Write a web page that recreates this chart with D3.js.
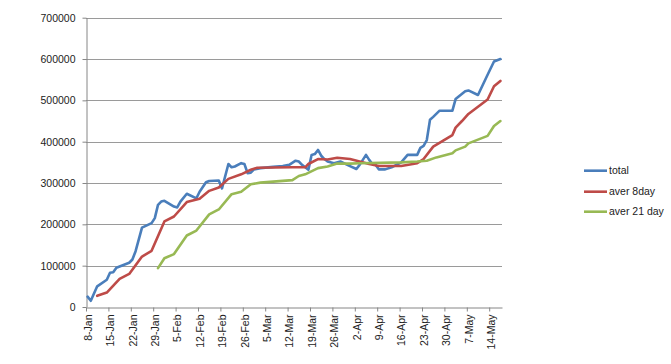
<!DOCTYPE html>
<html>
<head>
<meta charset="utf-8">
<script src="https://cdn.jsdelivr.net/npm/d3@7"></script>
<style>
  html, body { margin: 0; padding: 0; background: #fff; }
  svg { display: block; font-family: "Liberation Sans", Arial, sans-serif; }
</style>
</head>
<body>
<svg id="chart" width="671" height="364"></svg>
<script>
// ---- data ----
const xTickLabels = ["8-Jan","15-Jan","22-Jan","29-Jan","5-Feb","12-Feb","19-Feb","26-Feb","5-Mar","12-Mar","19-Mar","26-Mar","2-Apr","9-Apr","16-Apr","23-Apr","30-Apr","7-May","14-May"];
const yTickValues = [0,100000,200000,300000,400000,500000,600000,700000];
const seriesNames = ["total","aver 8day","aver 21 day"];

const totalDates = ["8-Jan","9-Jan","11-Jan","14-Jan","15-Jan","16-Jan","17-Jan","21-Jan","22-Jan","23-Jan","25-Jan","28-Jan","29-Jan","30-Jan","31-Jan","1-Feb","4-Feb","5-Feb","6-Feb","8-Feb","11-Feb","12-Feb","14-Feb","15-Feb","18-Feb","19-Feb","21-Feb","22-Feb","23-Feb","25-Feb","26-Feb","27-Feb","28-Feb","1-Mar","3-Mar","7-Mar","10-Mar","12-Mar","14-Mar","15-Mar","16-Mar","18-Mar","19-Mar","20-Mar","21-Mar","22-Mar","23-Mar","24-Mar","26-Mar","28-Mar","31-Mar","2-Apr","3-Apr","5-Apr","6-Apr","7-Apr","8-Apr","9-Apr","11-Apr","13-Apr","16-Apr","18-Apr","21-Apr","22-Apr","23-Apr","24-Apr","25-Apr","26-Apr","28-Apr","2-May","3-May","6-May","7-May","10-May","13-May","15-May","17-May"];
const totalValues = [25000,15000,50000,66000,83000,84000,95000,107000,115000,135000,192000,203000,215000,247000,255000,257000,243000,241000,255000,274000,263000,279000,302000,305000,306000,287000,346000,338000,340000,348000,346000,324000,325000,333000,336000,339000,341000,344000,354000,352000,344000,332000,368000,370000,380000,366000,358000,352000,348000,352000,341000,334000,344000,368000,356000,346000,344000,333000,333000,338000,350000,368000,368000,385000,390000,404000,453000,460000,475000,475000,503000,522000,524000,513000,562000,594000,600000];

const aver8Dates = ["11-Jan","14-Jan","18-Jan","21-Jan","25-Jan","28-Jan","1-Feb","4-Feb","8-Feb","12-Feb","15-Feb","18-Feb","21-Feb","25-Feb","28-Feb","2-Mar","13-Mar","17-Mar","18-Mar","21-Mar","24-Mar","27-Mar","31-Mar","3-Apr","6-Apr","9-Apr","16-Apr","21-Apr","23-Apr","26-Apr","29-Apr","2-May","3-May","5-May","7-May","13-May","15-May","17-May"];
const aver8Values = [27000,35000,68000,80000,122000,136000,207000,219000,254000,262000,281000,289000,310000,321000,332000,337000,338000,338000,346000,358000,357000,361000,358000,352000,346000,341000,341000,348000,358000,388000,402000,416000,434000,450000,467000,502000,534000,547000];

const aver21Dates = ["30-Jan","1-Feb","4-Feb","8-Feb","11-Feb","15-Feb","18-Feb","22-Feb","25-Feb","28-Feb","3-Mar","13-Mar","15-Mar","17-Mar","21-Mar","24-Mar","27-Mar","31-Mar","3-Apr","16-Apr","21-Apr","24-Apr","27-Apr","2-May","3-May","6-May","7-May","13-May","15-May","17-May"];
const aver21Values = [94000,118000,128000,173000,185000,224000,236000,273000,279000,297000,301000,307000,317000,321000,336000,340000,347000,347000,348000,350000,352000,354000,362000,372000,379000,388000,396000,414000,438000,450000];

const seriesColors = ["#4A7EBB","#BE4B48","#98B954"];

// ---- build ----
const parse = d3.timeParse("%d-%b");   // year 1900 (non-leap)
const fmt = d3.timeFormat("%-d-%b");
const mid = d => d3.timeHour.offset(d, 12);

const series = [
  {name: seriesNames[0], color: seriesColors[0], pts: totalDates.map((d,i)=>({date: parse(d), v: totalValues[i]}))},
  {name: seriesNames[1], color: seriesColors[1], pts: aver8Dates.map((d,i)=>({date: parse(d), v: aver8Values[i]}))},
  {name: seriesNames[2], color: seriesColors[2], pts: aver21Dates.map((d,i)=>({date: parse(d), v: aver21Values[i]}))}
];

const svg = d3.select("#chart");
svg.append("rect").attr("width",671).attr("height",364).attr("fill","#fff");

const plotL = 86, plotR = 502, plotT = 17.7, plotB = 307;
const x = d3.scaleTime().domain([parse("8-Jan"), parse("18-May")]).range([plotL, plotR]);
const y = d3.scaleLinear().domain([0, 700000]).range([plotB, plotT]);

// gridlines
svg.append("g").selectAll("line").data(yTickValues.filter(v => v > 0)).join("line")
  .attr("x1", plotL).attr("x2", plotR)
  .attr("y1", d => Math.round(y(d)) + 0.5).attr("y2", d => Math.round(y(d)) + 0.5)
  .attr("stroke", "#9a9a9a").attr("stroke-width", 1);

// y axis
const yAxis = svg.append("g").attr("transform", `translate(${plotL + 0.5},0)`)
  .call(d3.axisLeft(y).tickValues(yTickValues).tickFormat(d3.format("d")).tickSize(4).tickSizeOuter(0));
yAxis.select(".domain").attr("stroke", "#868686");
yAxis.selectAll(".tick line").attr("stroke", "#868686");
yAxis.selectAll(".tick text").attr("font-size", "10.5px").attr("fill", "#222").attr("x", -11)
  .attr("font-family", "'Liberation Sans', Arial, sans-serif");

// x axis
const xTicks = xTickLabels.map(parse);
const xAxis = svg.append("g").attr("transform", `translate(0,${Math.round(plotB) + 0.5})`)
  .call(d3.axisBottom(x).tickValues(xTicks).tickFormat(fmt).tickSize(4).tickSizeOuter(0));
xAxis.select(".domain").attr("stroke", "#868686");
xAxis.selectAll(".tick line").attr("stroke", "#868686");
xAxis.selectAll(".tick text")
  .attr("font-size", "10.5px").attr("fill", "#222")
  .attr("font-family", "'Liberation Sans', Arial, sans-serif")
  .attr("text-anchor", "end")
  .attr("dy", null)
  .attr("transform", "translate(5.3,7) rotate(-90)")
  .attr("x", 0).attr("y", 0);

// lines
const line = d3.line().x(d => x(mid(d.date))).y(d => y(d.v));
svg.append("g").selectAll("path").data(series).join("path")
  .attr("d", d => line(d.pts))
  .attr("fill", "none")
  .attr("stroke", d => d.color)
  .attr("stroke-width", 2.6)
  .attr("stroke-linejoin", "round")
  .attr("stroke-linecap", "round");

// legend
const legend = svg.append("g");
const ly = [170.7, 191.7, 211.7];
series.forEach((s, i) => {
  legend.append("line").attr("x1", 584).attr("x2", 607).attr("y1", ly[i]).attr("y2", ly[i])
    .attr("stroke", s.color).attr("stroke-width", 2.6);
  legend.append("text").attr("x", 609).attr("y", ly[i]).attr("dy", "0.35em")
    .attr("font-size", "10.5px").attr("fill", "#222").text(s.name);
});
</script>
</body>
</html>
